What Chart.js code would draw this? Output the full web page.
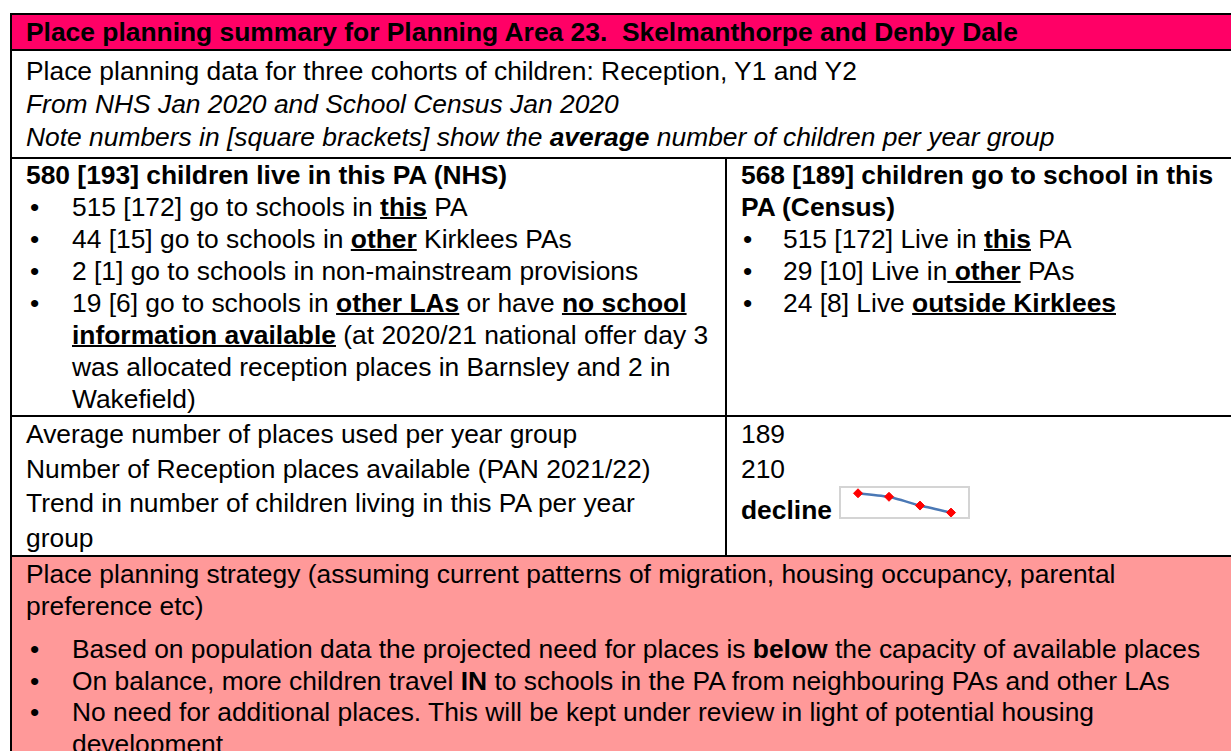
<!DOCTYPE html>
<html>
<head>
<meta charset="utf-8">
<script src="https://cdn.jsdelivr.net/npm/chart.js@4/dist/chart.umd.min.js"></script>
<style>
html, body { margin: 0; padding: 0; background: #fff; width: 1231px; height: 751px; overflow: hidden; }
body { font-family: "Liberation Sans", Arial, sans-serif; font-size: 26.4px; color: #000; }
#sheet { position: absolute; left: 10px; top: 13px; width: 1262px; border-collapse: collapse; table-layout: fixed; }
#sheet td { border: 2px solid #000; padding: 0 0 0 14px; vertical-align: top; white-space: nowrap; }
.hdr td { background: #ff0066; font-weight: bold; height: 34px; line-height: 34px; }
.r1 td { line-height: 33px; padding-top: 4px !important; padding-bottom: 3px !important; height: 99px; }
.r2 td { line-height: 32px; height: 256px; }
.r3 td { line-height: 34.5px; height: 138px; }
.r4 td { background: #ff9999; line-height: 31.5px; padding-top: 2px !important; }
.li { position: relative; padding-left: 46px; }
.li::before { content: "\2022"; position: absolute; left: 4px; top: 0; }
.rc .li { padding-left: 42px; }
.rc .li::before { left: 2px; }
b u, u b { text-decoration-thickness: 2px; }
.gap { margin-top: 12px; }
#spark { display: inline-block; width: 127px; height: 29px; border: 2px solid #d4d4d4; vertical-align: baseline; }
#spark canvas { display: block; }
</style>
</head>
<body>
<table id="sheet">
  <colgroup><col style="width:715px"><col style="width:547px"></colgroup>
  <tr class="hdr"><td colspan="2">Place planning summary for Planning Area 23.&nbsp; Skelmanthorpe and Denby Dale</td></tr>
  <tr class="r1"><td colspan="2">
    <div>Place planning data for three cohorts of children: Reception, Y1 and Y2</div>
    <div><i>From NHS Jan 2020 and School Census Jan 2020</i></div>
    <div><i>Note numbers in [square brackets] show the <b>average</b> number of children per year group</i></div>
  </td></tr>
  <tr class="r2">
    <td>
      <div><b>580 [193] children live in this PA (NHS)</b></div>
      <div class="li">515 [172] go to schools in <b><u>this</u></b> PA</div>
      <div class="li">44 [15] go to schools in <b><u>other</u></b> Kirklees PAs</div>
      <div class="li">2 [1] go to schools in non-mainstream provisions</div>
      <div class="li">19 [6] go to schools in <b><u>other LAs</u></b> or have <b><u>no school</u></b><br><b><u>information available</u></b> (at 2020/21 national offer day 3<br>was allocated reception places in Barnsley and 2 in<br>Wakefield)</div>
    </td>
    <td class="rc">
      <div><b>568 [189] children go to school in this<br>PA (Census)</b></div>
      <div class="li">515 [172] Live in <b><u>this</u></b> PA</div>
      <div class="li">29 [10] Live in<b><u> other</u></b> PAs</div>
      <div class="li">24 [8] Live <b><u>outside Kirklees</u></b></div>
    </td>
  </tr>
  <tr class="r3">
    <td>
      <div>Average number of places used per year group</div>
      <div>Number of Reception places available (PAN 2021/22)</div>
      <div>Trend in number of children living in this PA per year<br>group</div>
    </td>
    <td>
      <div>189</div>
      <div>210</div>
      <div><b>decline</b> <span id="spark"><canvas id="grafico" width="127" height="29"></canvas></span></div>
    </td>
  </tr>
  <tr class="r4"><td colspan="2">
    <div>Place planning strategy (assuming current patterns of migration, housing occupancy, parental<br>preference etc)</div>
    <div class="li gap">Based on population data the projected need for places is <b>below</b> the capacity of available places</div>
    <div class="li">On balance, more children travel <b>IN</b> to schools in the PA from neighbouring PAs and other LAs</div>
    <div class="li">No need for additional places. This will be kept under review in light of potential housing<br>development</div>
    <div>&nbsp;</div>
  </td></tr>
</table>

<script>
// tendência do número de crianças por grupo de ano (valores estimados da imagem)
const coortes = ['1', '2', '3', '4'];
const criancas = [200, 196, 186, 178];

const dados = {
    labels: coortes,
    datasets: [{
        data: criancas,
        borderColor: '#4a78b5',
        borderWidth: 2.5,
        pointStyle: 'rectRot',
        pointRadius: 4.5,
        pointBackgroundColor: '#ff0000',
        pointBorderColor: '#ff0000',
        pointBorderWidth: 1,
        tension: 0.15,
        fill: false,
        clip: false
    }]
};

const config = {
    type: 'line',
    data: dados,
    options: {
        responsive: false,
        animation: false,
        devicePixelRatio: 1,
        layout: { autoPadding: false, padding: { left: 17, right: 17, top: 0, bottom: 0 } },
        plugins: { legend: { display: false }, tooltip: { enabled: false } },
        scales: {
            x: { display: false },
            y: { display: false, min: 173, max: 206 }
        }
    }
};

const ctx = document.getElementById('grafico').getContext('2d');
const grafico = new Chart(ctx, config);
</script>
</body>
</html>
